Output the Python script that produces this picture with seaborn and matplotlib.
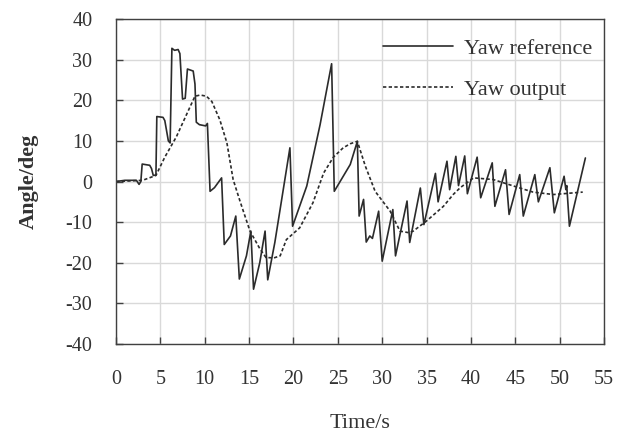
"""Yaw reference vs. yaw output over time."""

import matplotlib
matplotlib.use('agg')
import matplotlib.pyplot as plt
import seaborn as sns

# --- data ---
t_ref = [0, 1.0, 2.3, 2.6, 2.8, 2.95, 3.8, 4.0, 4.2, 4.5,
         4.6, 5.3, 5.5, 5.9, 6.1, 6.3, 6.6, 7.0, 7.2, 7.5,
         7.8, 8.05, 8.7, 8.9, 9.05, 9.4, 10.1, 10.3, 10.6, 11.1,
         11.9, 12.2, 12.9, 13.5, 13.9, 14.7, 15.2, 15.5, 16.2, 16.8,
         17.1, 17.9, 19.6, 19.9, 21.5, 23.0, 24.3, 24.6, 26.4, 27.2,
         27.4, 27.9, 28.2, 28.6, 28.9, 29.6, 30.0, 31.2, 31.5, 32.8,
         33.1, 34.3, 34.7, 36.0, 36.3, 37.3, 37.6, 38.3, 38.6, 39.3,
         39.6, 40.7, 41.1, 42.4, 42.7, 43.9, 44.3, 45.5, 45.9, 47.2,
         47.6, 48.9, 49.4, 50.5, 50.7, 50.8, 51.1, 52.9]
yaw_ref = [0, 0.3, 0.3, -0.7, 0, 4.3, 4.0, 3.2, 1.5, 1.6,
           16, 15.8, 15, 10, 9.5, 32.8, 32.3, 32.5, 31.5, 20.3,
           20.5, 27.7, 27.2, 24, 14.6, 14, 13.7, 14.3, -2.4, -1.5,
           0.9, -15.5, -13.4, -8.5, -24, -18.3, -12.2, -26.5, -20, -12.2,
           -24.2, -15, 8.3, -11, -1.1, 14, 29, -2.4, 4.2, 9.9,
           -8.5, -4.4, -14.9, -13.4, -14, -7.3, -19.6, -6.9, -18.3, -4.8,
           -15, -1.6, -10.6, 2.0, -5.0, 5.0, -2.0, 6.2, -1.0, 6.3,
           -3.0, 6.0, -4.0, 4.6, -6.1, 2.9, -8.1, 1.7, -8.5, 1.7,
           -5.0, 3.4, -7.7, 1.3, -2.0, -1.0, -11.0, 5.8]

t_out = [0, 3.0, 4.5, 5.5, 6.8, 8.2, 8.9, 9.5, 10.2, 10.8,
         11.7, 12.5, 13.2, 14.0, 15.1, 16.2, 16.9, 17.8, 18.5, 19.2,
         20.7, 22.2, 23.4, 24.5, 25.6, 26.4, 27.2, 28.1, 29.2, 30.9,
         32.0, 33.0, 33.5, 35.0, 36.9, 38.0, 38.8, 40.3, 42.5, 44.8,
         47.0, 49.3, 52.6]
yaw_out = [0, 0.3, 1.5, 6.0, 11.0, 17.7, 21.0, 21.3, 21.0, 19.7,
           15.2, 9.5, 0.5, -5.0, -12.2, -16.5, -18.7, -18.8, -18.3, -14.3,
           -11.4, -5.2, 2.1, 6.0, 8.3, 9.3, 9.9, 3.8, -2.4, -7.3,
           -12.2, -12.6, -12.2, -9.7, -6.1, -3.2, -1.5, 0.9, 0.5, -1.1,
           -2.6, -3.2, -2.6]

x_ticks = list(range(0, 56, 5))
y_ticks = list(range(-40, 41, 10))

LINE_COLOR = '#2b2b2b'
TEXT_COLOR = '#333333'
GRID_COLOR = '#d9d9d9'
TICK_SIZE = 14.5
LABEL_SIZE = 16
LEGEND_SIZE = 16

sns.set_theme(style='whitegrid')
plt.rcParams['font.family'] = ['Liberation Serif', 'DejaVu Serif']
plt.rcParams['axes.unicode_minus'] = False

fig = plt.figure(figsize=(6.22, 4.33), dpi=100)
ax = fig.add_axes([0.1865, 0.2055, 0.7846, 0.7505])

sns.lineplot(x=t_ref, y=yaw_ref, ax=ax, sort=False, estimator=None,
             color=LINE_COLOR, linewidth=1.2, label='Yaw reference')
sns.lineplot(x=t_out, y=yaw_out, ax=ax, sort=False, estimator=None,
             color=LINE_COLOR, linewidth=1.2, linestyle=(0, (2, 1.4)),
             label='Yaw output')

ax.set_xlim(0, 55)
ax.set_ylim(-40, 40)
ax.set_xticks(x_ticks)
ax.set_yticks(y_ticks)

ax.grid(True, color=GRID_COLOR, linewidth=1.0)
for spine in ax.spines.values():
    spine.set_color('#404040')
    spine.set_linewidth(1.0)

ax.tick_params(axis='both', direction='in', length=5, width=1.0,
               color='#404040', labelsize=TICK_SIZE, labelcolor=TEXT_COLOR)
ax.tick_params(axis='x', bottom=True, top=False, pad=19)
ax.tick_params(axis='y', left=True, right=False, pad=17)

ax.set_xlabel('Time/s', fontsize=LABEL_SIZE, color=TEXT_COLOR, labelpad=18)
ax.set_ylabel('Angle/deg', fontsize=LABEL_SIZE, color=TEXT_COLOR,
              fontweight='bold', labelpad=19)

leg = ax.legend(loc='upper left', bbox_to_anchor=(0.547, 0.94), frameon=False,
                fontsize=LEGEND_SIZE, handlelength=3.15, handletextpad=0.5,
                labelspacing=0.92, borderpad=0, borderaxespad=0)
for text in leg.get_texts():
    text.set_color(TEXT_COLOR)

fig.savefig('out.png', dpi=100)
